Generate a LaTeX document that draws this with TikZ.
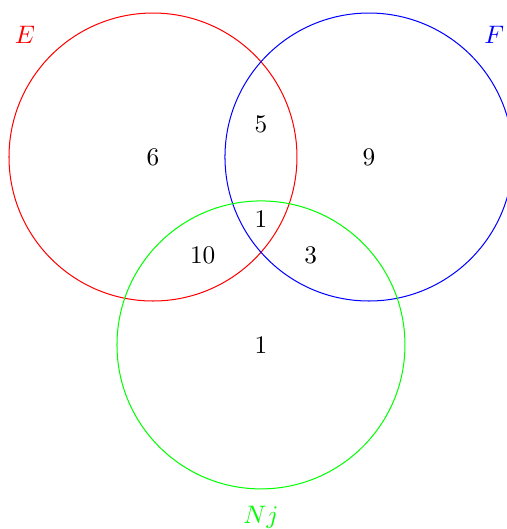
\documentclass[tikz,border=0pt]{standalone}
\usepackage{amsmath,amssymb}
\usepackage{xcolor}
\usepackage{tikz}
\usetikzlibrary{positioning}

\begin{document}
\begin{tikzpicture}[
  setline/.style={thin},
  count/.style={inner sep=0pt},
]
\useasboundingbox (-2.125,2.181) rectangle (4.917,-5.167);
% the three sets
\draw[setline,red] (0,0) circle (2);
\draw[setline,blue] (3,0) circle (2);
\draw[setline,green] (1.5,-2.61) circle (2);
% set names
\node[red] (nameE) at (-1.78,1.69) {$E$};
\node[blue] (nameF) at (4.74,1.69) {$F$};
\node[green] (nameN) at (1.5,-5.0) {$Nj$};
% counts
\node[count] (onlyE) at (0,0) {6};
\node[count] (onlyF) at (3,0) {9};
\node[count] (EF) at (1.5,0.46) {5};
\node[count] (EFN) at (1.5,-0.86) {1};
\node[count] (EN) at (0.69,-1.36) {10};
\node[count] (FN) at (2.19,-1.36) {3};
\node[count] (onlyN) at (1.5,-2.61) {1};
\end{tikzpicture}
\end{document}
